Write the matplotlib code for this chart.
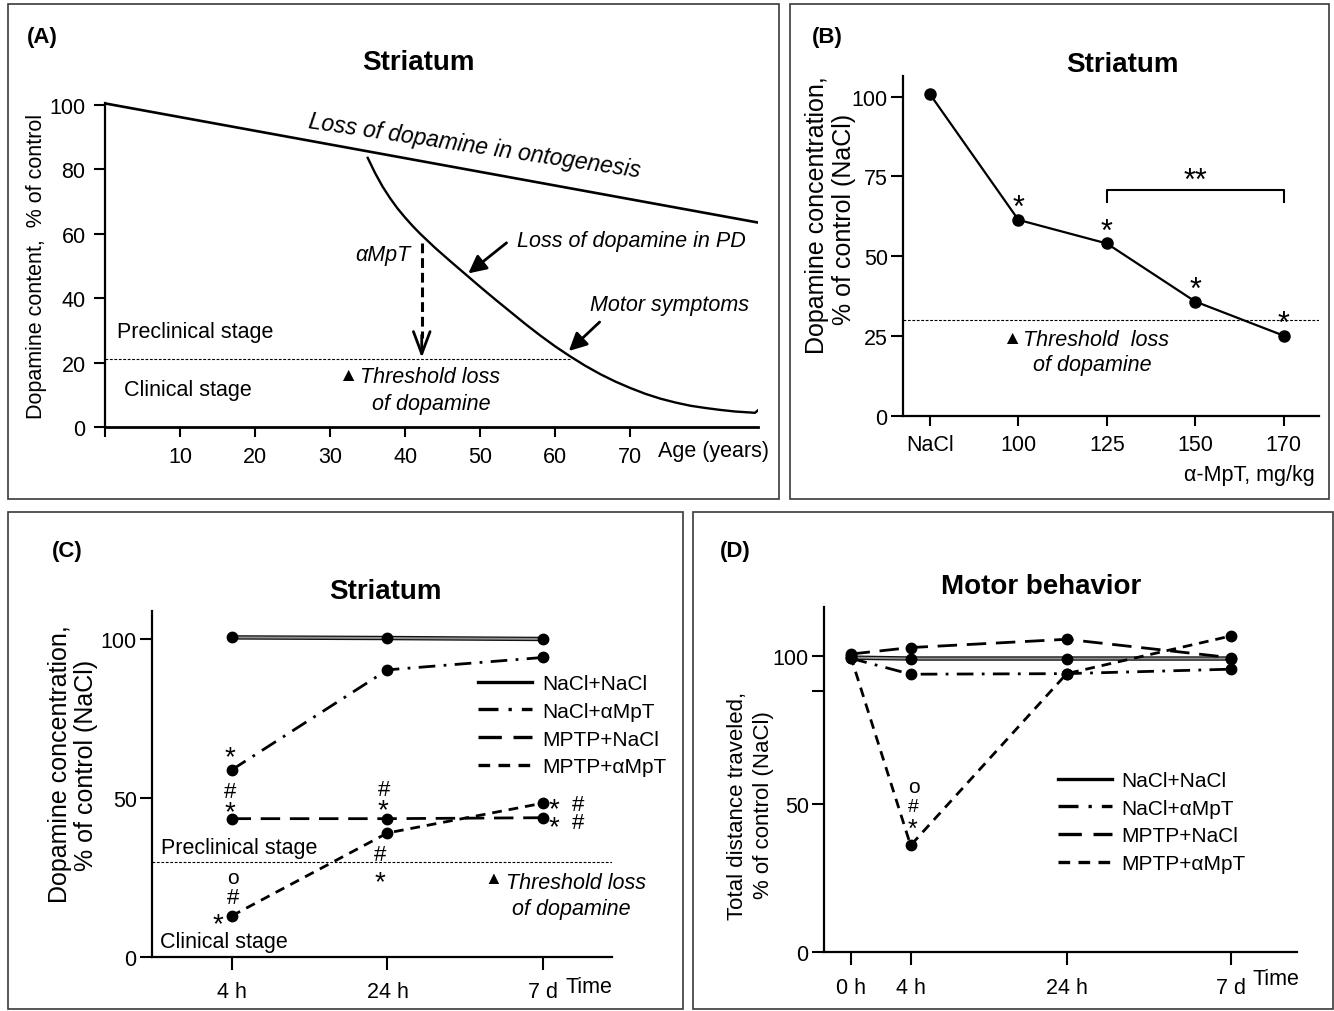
import matplotlib
matplotlib.use('Agg')
import matplotlib.pyplot as plt
import matplotlib.patheffects as pe
from matplotlib.lines import Line2D
from matplotlib.patches import Rectangle

plt.rcParams['font.family'] = ['Liberation Sans', 'DejaVu Sans']
plt.rcParams['font.size'] = 15

# ---------------- data ----------------
# Panel A
onto_age = [0, 87]
onto_da = [100.5, 63.5]
pd_age = [35.0, 36.0, 37.0, 38.0, 39.0, 40.0, 41.0, 42.0, 44.0, 46.0, 48.0, 50.0, 52.0, 54.0,
          56.0, 58.0, 60.0, 62.0, 64.0, 66.0, 68.0, 70.0, 72.0, 74.0, 76.0, 78.0, 80.0, 82.0,
          84.0, 86.0, 86.6, 87.0]
pd_da = [83.6, 78.8, 74.6, 71.0, 67.8, 65.0, 62.4, 60.0, 55.6, 51.5, 47.5, 43.5, 39.6, 35.8,
         32.0, 28.4, 25.0, 21.9, 19.0, 16.4, 14.1, 12.1, 10.3, 8.8, 7.6, 6.6, 5.9, 5.3,
         4.8, 4.5, 4.4, 5.2]
threshold_A = 21.2
threshold_A_end = 62.0
ampt_age = 42.2
ampt_from, ampt_to = 57.0, 21.5
age_ticks = [10, 20, 30, 40, 50, 60, 70]
da_ticks_A = [0, 20, 40, 60, 80, 100]

# Panel B
dose_labels = ['NaCl', '100', '125', '150', '170']
dose_da = [100.8, 61.4, 54.0, 35.8, 25.1]
sig_B = ['', '*', '*', '*', '*']
threshold_B = 30.1
bracket_from, bracket_to, bracket_y, bracket_drop = 2, 4, 70.8, 67.0
da_ticks_B = [0, 25, 50, 75, 100]

# Panel C
groups = ['NaCl+NaCl', 'NaCl+\u03b1MpT', 'MPTP+NaCl', 'MPTP+\u03b1MpT']
time_C = ['4 h', '24 h', '7 d']
C_nacl_nacl = [100.5, 100.3, 100.0]
C_nacl_ampt = [58.8, 90.3, 94.2]
C_mptp_nacl = [43.5, 43.5, 43.8]
C_mptp_ampt = [12.9, 39.0, 48.4]
threshold_C = 29.8

# Panel D
time_D = ['0 h', '4 h', '24 h', '7 d']
D_nacl_nacl = [99.4, 99.1, 99.1, 99.1]
D_nacl_ampt = [99.2, 93.8, 94.0, 95.5]
D_mptp_nacl = [100.6, 102.8, 105.6, 99.4]
D_mptp_ampt = [100.0, 36.0, 94.0, 106.7]

# ---------------- layout helpers ----------------
W, H = 1334, 1012
fig = plt.figure(figsize=(W / 100, H / 100), dpi=100)


def box(l, t, r, b):
    return [l / W, 1 - b / H, (r - l) / W, (b - t) / H]


def fx(x):
    return x / W


def fy(y):
    return 1 - y / H


def frame(l, t, r, b):
    fig.patches.append(Rectangle((fx(l), fy(b)), (r - l) / W, (b - t) / H,
                                 transform=fig.transFigure, fill=False,
                                 ec='#3a3a3a', lw=1.2))


def style_axes(ax, lw=1.5):
    for s in ['top', 'right']:
        ax.spines[s].set_visible(False)
    for s in ['left', 'bottom']:
        ax.spines[s].set_linewidth(lw)


GLYPH_CENTER = {'*': 0.50, '#': 0.36, 'o': 0.26, '**': 0.50}


def mark(ax, x, y, s, fs, ha='center'):
    off = -GLYPH_CENTER.get(s, 0.36) * fs
    ax.annotate(s, xy=(x, y), xytext=(0, off), textcoords='offset points',
                ha=ha, va='baseline', fontsize=fs)


LS_DASHDOT = (0, (6, 3, 1, 3))
LS_LONG = (0, (7, 3.5))
LS_SHORT = (0, (3.5, 2.5))
GRAY_PE = [pe.Stroke(linewidth=3.2, foreground='#111111'), pe.Normal()]
TICK_FS = 15.5
TXT_FS = 15.5

frame(8, 5, 779, 500)
frame(790, 5, 1329, 500)
frame(8, 513, 683, 1010)
frame(693, 513, 1333, 1010)

# ---------------- Panel A ----------------
axA = fig.add_axes(box(105, 102.8, 758, 428))
style_axes(axA, 1.6)
axA.spines['bottom'].set_linewidth(2.0)
axA.set_xlim(0, 87)
axA.set_ylim(0, 101)
axA.spines['left'].set_bounds(0, 100.5)
axA.plot(onto_age, onto_da, color='k', lw=1.9, solid_capstyle='round')
axA.plot(pd_age, pd_da, color='k', lw=1.7, solid_joinstyle='round')
axA.plot([0, threshold_A_end], [threshold_A, threshold_A], color='k', lw=0.8, ls=(0, (2.5, 1.5)))
axA.plot([ampt_age, ampt_age], [ampt_from, ampt_to + 6], color='k', lw=2.2, ls=(0, (3.2, 1.6)))
axA.annotate('', xy=(ampt_age, ampt_to), xytext=(ampt_age, ampt_to + 7),
             arrowprops=dict(arrowstyle='->,head_length=0.8,head_width=0.3', color='k', lw=2.0,
                             mutation_scale=20, shrinkA=0, shrinkB=0))
axA.set_xticks([0] + age_ticks)
axA.set_xticklabels([''] + [str(a) for a in age_ticks])
axA.set_yticks(da_ticks_A)
axA.tick_params(axis='x', length=7, width=1.5, pad=7, labelsize=TICK_FS)
axA.tick_params(axis='y', length=8, width=1.5, pad=6, labelsize=TICK_FS)
axA.text(49.2, 87.6, 'Loss of dopamine in ontogenesis', rotation=-8.5, rotation_mode='anchor',
         ha='center', va='center', style='italic', fontsize=16.5)
axA.text(37.0, 53.7, '\u03b1MpT', ha='center', va='center', style='italic', fontsize=TXT_FS)
axA.text(54.9, 58.0, 'Loss of dopamine in PD', ha='left', va='center', style='italic', fontsize=TXT_FS)
axA.text(64.6, 37.9, 'Motor symptoms', ha='left', va='center', style='italic', fontsize=TXT_FS)
axA.annotate('', xy=(48.4, 47.7), xytext=(53.5, 57.2),
             arrowprops=dict(arrowstyle='-|>,head_length=0.6,head_width=0.3', color='k', lw=2.0,
                             mutation_scale=18, shrinkA=0, shrinkB=0))
axA.annotate('', xy=(61.8, 23.6), xytext=(65.9, 32.6),
             arrowprops=dict(arrowstyle='-|>,head_length=0.6,head_width=0.3', color='k', lw=2.0,
                             mutation_scale=18, shrinkA=0, shrinkB=0))
axA.text(1.6, 29.8, 'Preclinical stage', ha='left', va='center', fontsize=TXT_FS)
axA.text(2.5, 11.8, 'Clinical stage', ha='left', va='center', fontsize=TXT_FS)
axA.text(31.0, 15.9, '\u25b2', ha='left', va='center', fontsize=14)
axA.text(34.0, 15.6, 'Threshold loss', ha='left', va='center', style='italic', fontsize=TXT_FS)
axA.text(35.6, 7.3, 'of dopamine', ha='left', va='center', style='italic', fontsize=TXT_FS)
fig.text(fx(714), fy(452), 'Age (years)', ha='center', va='center', fontsize=TXT_FS)
fig.text(fx(37), fy(266), 'Dopamine content,  % of control', rotation=90,
         ha='center', va='center', fontsize=15.5)
fig.text(fx(418), fy(63), 'Striatum', ha='center', va='center', fontsize=20, fontweight='bold')
fig.text(fx(27), fy(38), '(A)', ha='left', va='center', fontsize=16, fontweight='bold')

# ---------------- Panel B ----------------
axB = fig.add_axes(box(903, 76.7, 1319, 416.7))
style_axes(axB, 1.6)
xB = list(range(len(dose_labels)))
axB.set_xlim(-0.305, 4.4)
axB.set_ylim(0, 106.6)
axB.plot(xB, dose_da, color='k', lw=1.6, marker='o', ms=8, mfc='k', mec='k')
axB.plot([-0.305, 4.4], [threshold_B, threshold_B], color='k', lw=0.8, ls=(0, (2.5, 1.5)))
for x, y, s in zip(xB, dose_da, sig_B):
    if s:
        mark(axB, x, y + 6.0, s, 22)
axB.plot([bracket_from, bracket_from, bracket_to, bracket_to],
         [bracket_drop, bracket_y, bracket_y, bracket_drop], color='k', lw=1.5)
mark(axB, (bracket_from + bracket_to) / 2, bracket_y + 5.0, '**', 22)
axB.set_xticks(xB)
axB.set_xticklabels(dose_labels)
axB.set_yticks(da_ticks_B)
axB.tick_params(axis='x', length=7, width=1.5, pad=6, labelsize=TICK_FS)
axB.tick_params(axis='y', length=9, width=1.5, pad=2, labelsize=TICK_FS)
axB.text(0.82, 24.3, '\u25b2', ha='left', va='center', fontsize=14)
axB.text(1.05, 24.0, 'Threshold  loss', ha='left', va='center', style='italic', fontsize=TXT_FS)
axB.text(1.16, 15.9, 'of dopamine', ha='left', va='center', style='italic', fontsize=TXT_FS)
fig.text(fx(1315), fy(475), '\u03b1-MpT, mg/kg', ha='right', va='center', fontsize=TXT_FS)
fig.text(fx(817), fy(215), 'Dopamine concentration,', rotation=90, ha='center', va='center', fontsize=18)
fig.text(fx(844), fy(219), '% of control (NaCl)', rotation=90, ha='center', va='center', fontsize=18)
fig.text(fx(1122), fy(65), 'Striatum', ha='center', va='center', fontsize=20, fontweight='bold')
fig.text(fx(812), fy(38), '(B)', ha='left', va='center', fontsize=16, fontweight='bold')

# ---------------- Panel C ----------------
axC = fig.add_axes(box(152, 612, 612, 958))
style_axes(axC, 1.6)
xC = list(range(len(time_C)))
axC.set_xlim(-0.51, 2.44)
axC.set_ylim(0, 108.8)
axC.plot(xC, C_nacl_nacl, color='#909090', lw=1.4, path_effects=GRAY_PE)
axC.plot(xC, C_nacl_nacl, ls='none', marker='o', ms=7.5, color='k')
axC.plot(xC, C_nacl_ampt, color='k', lw=2.0, ls=LS_DASHDOT, marker='o', ms=7.5)
axC.plot(xC, C_mptp_nacl, color='k', lw=2.0, ls=LS_LONG, marker='o', ms=7.5)
axC.plot(xC, C_mptp_ampt, color='k', lw=2.0, ls=LS_SHORT, marker='o', ms=7.5)
axC.plot([-0.51, 2.44], [threshold_C, threshold_C], color='k', lw=0.8, ls=(0, (2.5, 1.5)))
axC.set_xticks(xC)
axC.set_xticklabels(time_C)
axC.set_yticks([0, 50, 100])
axC.tick_params(axis='x', length=9, width=1.5, pad=8, labelsize=TICK_FS)
axC.tick_params(axis='y', length=9, width=1.5, pad=2, labelsize=TICK_FS)
# significance marks
mark(axC, -0.01, 65.0, '*', 20)
mark(axC, -0.01, 52.9, '#', 16)
mark(axC, -0.01, 47.6, '*', 20)
mark(axC, 0.01, 25.1, 'o', 15)
mark(axC, 0.01, 19.4, '#', 16)
mark(axC, -0.09, 12.6, '*', 20)
mark(axC, 0.98, 53.6, '#', 16)
mark(axC, 0.97, 48.4, '*', 20)
mark(axC, 0.95, 33.0, '#', 16)
mark(axC, 0.95, 25.7, '*', 20)
mark(axC, 2.07, 48.7, '*', 20)
mark(axC, 2.22, 48.7, '#', 16)
mark(axC, 2.07, 43.0, '*', 20)
mark(axC, 2.22, 43.0, '#', 16)
axC.text(-0.45, 34.3, 'Preclinical stage', ha='left', va='center', fontsize=TXT_FS)
axC.text(-0.46, 5.0, 'Clinical stage', ha='left', va='center', fontsize=TXT_FS)
axC.text(1.62, 24.8, '\u25b2', ha='left', va='center', fontsize=13)
axC.text(1.76, 23.3, 'Threshold loss', ha='left', va='center', style='italic', fontsize=TXT_FS)
axC.text(1.80, 15.1, 'of dopamine', ha='left', va='center', style='italic', fontsize=TXT_FS)
handles = [Line2D([], [], color='k', lw=2.4, ls=ls) for ls in ['-', LS_DASHDOT, LS_LONG, LS_SHORT]]
axC.legend(handles, groups, loc='upper left', bbox_to_anchor=(fx(478), fy(675)),
           bbox_transform=fig.transFigure, frameon=False, fontsize=15, borderpad=0,
           borderaxespad=0, handlelength=2.6, handletextpad=0.5, labelspacing=0.42)
fig.text(fx(589), fy(988), 'Time', ha='center', va='center', fontsize=TXT_FS)
fig.text(fx(60), fy(764), 'Dopamine concentration,', rotation=90, ha='center', va='center', fontsize=18)
fig.text(fx(86), fy(765), '% of control (NaCl)', rotation=90, ha='center', va='center', fontsize=18)
fig.text(fx(385), fy(592), 'Striatum', ha='center', va='center', fontsize=20, fontweight='bold')
fig.text(fx(52), fy(552), '(C)', ha='left', va='center', fontsize=16, fontweight='bold')

# ---------------- Panel D ----------------
axD = fig.add_axes(box(824, 608, 1297, 953))
style_axes(axD, 1.6)
xD = [0, 0.385, 1.385, 2.435]
axD.set_xlim(-0.17, 2.86)
axD.set_ylim(0, 116.5)
axD.plot(xD, D_nacl_nacl, color='#909090', lw=1.4, path_effects=GRAY_PE)
axD.plot(xD, D_nacl_nacl, ls='none', marker='o', ms=7.5, color='k')
axD.plot(xD, D_nacl_ampt, color='k', lw=2.0, ls=LS_DASHDOT, marker='o', ms=7.5)
axD.plot(xD, D_mptp_nacl, color='k', lw=2.0, ls=LS_LONG, marker='o', ms=7.5)
axD.plot(xD, D_mptp_ampt, color='k', lw=2.0, ls=LS_SHORT, marker='o', ms=7.5)
axD.set_xticks(xD)
axD.set_xticklabels(time_D)
axD.set_yticks([0, 50, 88, 100])
axD.set_yticklabels(['0', '50', '', '100'])
axD.tick_params(axis='x', length=9, width=1.5, pad=9, labelsize=TICK_FS)
axD.tick_params(axis='y', length=9, width=1.5, pad=2, labelsize=TICK_FS)
mark(axD, 0.40, 43.3, '*', 18)
mark(axD, 0.40, 50.0, '#', 14)
mark(axD, 0.405, 55.8, 'o', 15)
axD.legend(handles, groups, loc='upper left', bbox_to_anchor=(fx(1058), fy(772)),
           bbox_transform=fig.transFigure, frameon=False, fontsize=15, borderpad=0,
           borderaxespad=0, handlelength=2.6, handletextpad=0.45, labelspacing=0.42)
fig.text(fx(1276), fy(980), 'Time', ha='center', va='center', fontsize=TXT_FS)
fig.text(fx(737), fy(806), 'Total distance traveled,', rotation=90, ha='center', va='center', fontsize=16)
fig.text(fx(764), fy(805), '% of control (NaCl)', rotation=90, ha='center', va='center', fontsize=16)
fig.text(fx(1041), fy(587), 'Motor behavior', ha='center', va='center', fontsize=20, fontweight='bold')
fig.text(fx(720), fy(552), '(D)', ha='left', va='center', fontsize=16, fontweight='bold')

fig.savefig('out.png', dpi=100)
